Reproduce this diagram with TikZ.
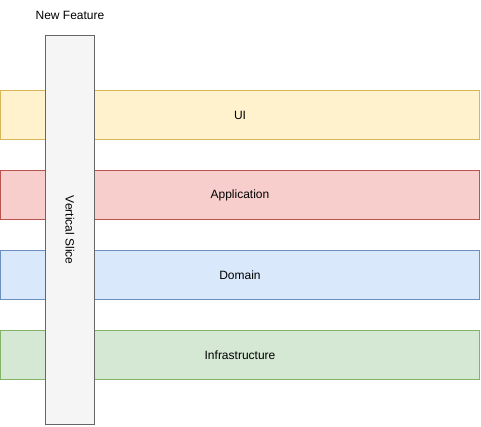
\documentclass[tikz,border=0pt]{standalone}
\usepackage{fontspec}
\setmainfont{Liberation Sans}
\usetikzlibrary{positioning}

\definecolor{uifill}{HTML}{FFF2CC}
\definecolor{uiline}{HTML}{D6B656}
\definecolor{appfill}{HTML}{F8CECC}
\definecolor{appline}{HTML}{B85450}
\definecolor{domfill}{HTML}{DAE8FC}
\definecolor{domline}{HTML}{6C8EBF}
\definecolor{infrafill}{HTML}{D5E8D4}
\definecolor{infraline}{HTML}{82B366}
\definecolor{slicefill}{HTML}{F5F5F5}
\definecolor{sliceline}{HTML}{666666}

\tikzset{
layer/.style={draw,line width=0.75pt,minimum width=359.25pt,minimum height=36.75pt,inner sep=0pt,font=\fontsize{9}{11}\selectfont},
slicebox/.style={draw=sliceline,fill=slicefill,line width=0.75pt,minimum width=36.75pt,minimum height=291.75pt,inner sep=0pt},
}

\begin{document}
\begin{tikzpicture}[x=0.75pt,y=-0.75pt]
\useasboundingbox (0,0) rectangle (481,426);

\node[layer,draw=uiline,fill=uifill] (ui) at (240,115) {};
\node[layer,draw=appline,fill=appfill] (app) at (240,195) {};
\node[layer,draw=domline,fill=domfill] (dom) at (240,275) {};
\node[layer,draw=infraline,fill=infrafill] (infra) at (240,355) {};

\node[slicebox] (slice) at (70,230) {};
\node[rotate=-90,font=\fontsize{9}{11}\selectfont] at (slice.center) {Vertical Slice};
\node[above=14.5pt of slice.north,anchor=center,font=\fontsize{9}{11}\selectfont] (feature) {New Feature};

%layer labels
\node[font=\fontsize{9}{11}\selectfont] at (ui.center) {UI};
\node[font=\fontsize{9}{11}\selectfont] at (app.center) {Application};
\node[font=\fontsize{9}{11}\selectfont] at (dom.center) {Domain};
\node[font=\fontsize{9}{11}\selectfont] at (infra.center) {Infrastructure};
\end{tikzpicture}
\end{document}
